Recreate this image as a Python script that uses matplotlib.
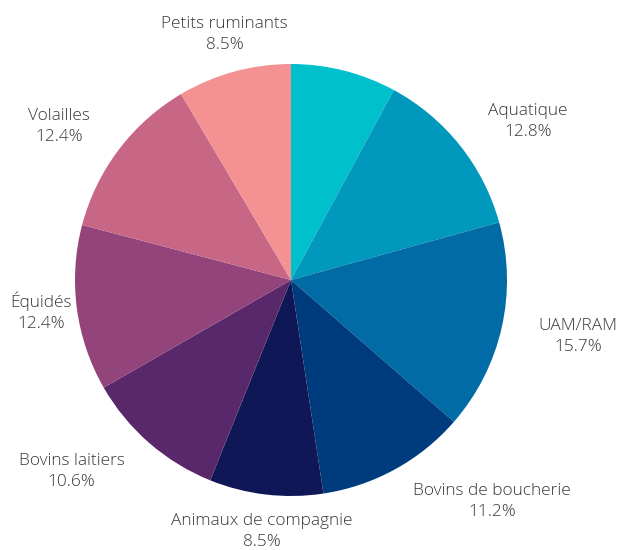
import numpy as np
import matplotlib
matplotlib.use("Agg")
import matplotlib.pyplot as plt

# Data (clockwise from 12 o'clock)
categories = ["", "Aquatique", "UAM/RAM", "Bovins de boucherie", "Animaux de compagnie",
              "Bovins laitiers", "Équidés", "Volailles", "Petits ruminants"]
shares = [7.9, 12.8, 15.7, 11.2, 8.5, 10.6, 12.4, 12.4, 8.5]
colors = ["#00C1CB", "#0098BC", "#006BA4", "#003C7D", "#101756",
          "#59286A", "#93447B", "#C86686", "#F49193"]

# label placement tweaks (radius factor, angle shift in degrees)
lab_r = [1.2, 1.32, 1.356, 1.384, 1.171, 1.347, 1.167, 1.287, 1.176]
lab_dt = [0, 4.8, -1.6, -13.5, 0, 7.9, 0.3, -3.6, 0.2]

plt.rcParams["font.family"] = ["Open Sans", "DejaVu Sans"]

fig = plt.figure(figsize=(6.17, 5.5), dpi=100)
ax = fig.add_axes([0, 0, 1, 1])

wedges, _ = ax.pie(shares, colors=colors, startangle=90, counterclock=False,
                   radius=1, wedgeprops=dict(linewidth=0))

for i, w in enumerate(wedges):
    if not categories[i]:
        continue
    mid = (w.theta1 + w.theta2) / 2 - lab_dt[i]
    a = np.deg2rad(mid)
    x = lab_r[i] * np.cos(a)
    y = lab_r[i] * np.sin(a)
    ax.text(x, y, f"{categories[i]}\n{shares[i]:.1f}%", ha="center", va="center",
            fontsize=12.4, fontweight="light", color="#383838", linespacing=1.4)

ax.set_xlim(-291 / 216, (617 - 291) / 216)
ax.set_ylim(-270 / 216, 280 / 216)
ax.set_aspect("auto")
ax.axis("off")

fig.savefig("out.png", dpi=100)
